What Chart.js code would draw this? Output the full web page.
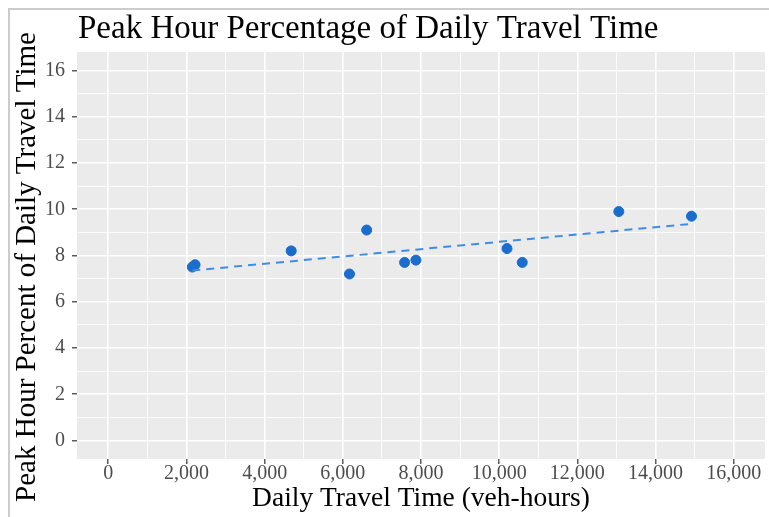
<!DOCTYPE html>
<html>
<head>
<meta charset="utf-8">
<script src="https://cdn.jsdelivr.net/npm/chart.js@4.4.1/dist/chart.umd.min.js"></script>
<style>
  html, body { margin: 0; padding: 0; background: #fff; overflow: hidden; }
  #wrap { position: absolute; left: 0; top: 0; width: 771px; height: 517px; }
</style>
</head>
<body>
<div id="wrap"><canvas id="chart" width="771" height="517"></canvas></div>
<script>
// values
const travelTime = [2150, 2220, 4680, 6170, 6610, 7580, 7870, 10200, 10590, 13060, 14920];
const peakPct = [7.5, 7.6, 8.2, 7.2, 9.1, 7.7, 7.8, 8.3, 7.7, 9.9, 9.7];
// dashed trend line end points
const trendX = [2150, 14920];
const trendY = [7.35, 9.37];
const xTickLabels = [0, 2000, 4000, 6000, 8000, 10000, 12000, 14000, 16000];
const yTickLabels = [0, 2, 4, 6, 8, 10, 12, 14, 16];

const titleText = 'Peak Hour Percentage of Daily Travel Time';
const yTitleText = 'Peak Hour Percent of Daily Travel Time';
const serif = 'Liberation Serif';

// major breaks plus the minor ones half way between them
const withMinor = list => {
  const out = [];
  list.forEach((v, i) => {
    out.push(v);
    if (i < list.length - 1) out.push((v + list[i + 1]) / 2);
  });
  return out.map(v => ({ value: v }));
};

const panel = {
  id: 'panel',
  beforeDraw(chart) {
    const { ctx, chartArea: a } = chart;
    ctx.save();
    ctx.fillStyle = '#ebebeb';
    ctx.fillRect(a.left, a.top, a.right - a.left, a.bottom - a.top);
    ctx.restore();
  },
  afterDraw(chart) {
    const { ctx, chartArea: a } = chart;
    ctx.save();
    ctx.fillStyle = '#000';
    ctx.font = '33px "' + serif + '"';
    ctx.textBaseline = 'alphabetic';
    ctx.fillText(titleText, a.left + 1, 38);

    // y axis title
    ctx.translate(27, 267);
    ctx.rotate(-Math.PI / 2);
    ctx.font = '29px "' + serif + '"';
    ctx.textAlign = 'center';
    ctx.textBaseline = 'middle';
    ctx.fillText(yTitleText, 0, 0);
    ctx.setTransform(1, 0, 0, 1, 0, 0);

    // picture frame
    ctx.strokeStyle = '#cccccc';
    ctx.lineWidth = 2;
    ctx.beginPath();
    ctx.moveTo(9, 517);
    ctx.lineTo(9, 9);
    ctx.lineTo(771, 9);
    ctx.stroke();
    ctx.restore();
  }
};

const isMajor = (list, c) => c.tick && list.includes(c.tick.value);

new Chart(document.getElementById('chart'), {
  type: 'scatter',
  data: {
    datasets: [
      {
        data: travelTime.map((x, i) => ({ x: x, y: peakPct[i] })),
        backgroundColor: '#1a6dcc',
        borderColor: '#1a6dcc',
        pointRadius: 5,
        order: 2
      },
      {
        type: 'line',
        data: trendX.map((x, i) => ({ x: x, y: trendY[i] })),
        borderColor: '#3f8ce8',
        borderWidth: 2,
        borderDash: [8, 6],
        pointRadius: 0,
        fill: false,
        order: 1
      }
    ]
  },
  options: {
    responsive: false,
    animation: false,
    layout: { padding: { top: 52, left: 0, right: 0, bottom: 0 } },
    plugins: { legend: { display: false }, tooltip: { enabled: false } },
    scales: {
      x: {
        type: 'linear',
        min: -800,
        max: 16800,
        border: { display: false },
        grid: {
          color: '#ffffff',
          lineWidth: c => isMajor(xTickLabels, c) ? 1.6 : 0.8,
          tickColor: c => isMajor(xTickLabels, c) ? '#333333' : 'rgba(0,0,0,0)',
          tickLength: 5,
          tickWidth: 1.2
        },
        ticks: {
          autoSkip: false,
          maxRotation: 0,
          padding: -2,
          color: '#4d4d4d',
          font: { family: serif, size: 20 },
          callback: v => xTickLabels.includes(v) ? v.toLocaleString('en-US') : ''
        },
        title: {
          display: true,
          text: 'Daily Travel Time (veh-hours)',
          color: '#000',
          font: { family: serif, size: 27.5 },
          padding: { top: 0, bottom: 2 }
        },
        afterBuildTicks: s => { s.ticks = withMinor(xTickLabels); },
        afterFit: s => { s.height = 58; s.paddingLeft = 0; s.paddingRight = 0; }
      },
      y: {
        min: -0.8,
        max: 16.8,
        border: { display: false },
        grid: {
          color: '#ffffff',
          lineWidth: c => isMajor(yTickLabels, c) ? 1.6 : 0.8,
          tickColor: c => isMajor(yTickLabels, c) ? '#333333' : 'rgba(0,0,0,0)',
          tickLength: 5,
          tickWidth: 1.2
        },
        ticks: {
          autoSkip: false,
          padding: 7,
          color: '#4d4d4d',
          font: { family: serif, size: 20 },
          callback: v => yTickLabels.includes(v) ? String(v) : ''
        },
        afterBuildTicks: s => { s.ticks = withMinor(yTickLabels); },
        afterFit: s => { s.width = 77; s.paddingTop = 0; s.paddingBottom = 0; }
      }
    }
  },
  plugins: [panel]
});
</script>
</body>
</html>
